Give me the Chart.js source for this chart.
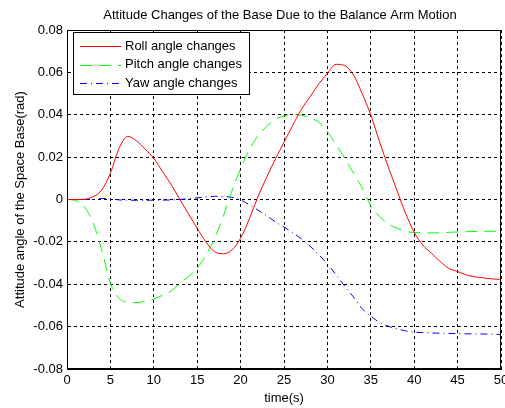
<!DOCTYPE html>
<html>
<head>
<meta charset="utf-8">
<script src="https://cdn.jsdelivr.net/npm/chart.js@4"></script>
<style>
  html, body { margin: 0; padding: 0; background: #fff; }
  #c { display: block; }
</style>
</head>
<body>
<canvas id="c" width="505" height="408"></canvas>
<script>
// temps (s), un point par seconde
const time = [0,1,2,3,4,5,6,7,8,9,10,11,12,13,14,15,16,17,18,19,20,21,22,23,24,25,26,27,28,29,30,31,32,33,34,35,36,37,38,39,40,41,42,43,44,45,46,47,48,49,50];

const roll = [0,0,0.0001,0.0013,0.0045,0.0124,0.0242,0.0298,0.0277,0.0238,0.0194,0.0132,0.007,0,-0.0068,-0.0136,-0.02,-0.0246,-0.0256,-0.0238,-0.0183,-0.0092,0.0013,0.0105,0.019,0.027,0.035,0.0425,0.0485,0.0545,0.0595,0.0638,0.0632,0.0588,0.05,0.0399,0.0273,0.0155,0.0045,-0.0065,-0.0155,-0.0215,-0.0254,-0.0293,-0.0325,-0.034,-0.0356,-0.0365,-0.037,-0.0375,-0.0377];

const pitch = [0,-0.0005,-0.0035,-0.011,-0.0238,-0.0395,-0.0466,-0.0485,-0.0487,-0.048,-0.047,-0.0452,-0.0432,-0.0395,-0.0364,-0.0325,-0.0262,-0.0185,-0.008,0.004,0.0145,0.0235,0.03,0.0345,0.0378,0.0394,0.04,0.0398,0.0385,0.0365,0.032,0.026,0.0194,0.0124,0.0055,-0.003,-0.008,-0.0115,-0.0135,-0.015,-0.0156,-0.0157,-0.0158,-0.0157,-0.0155,-0.0153,-0.0152,-0.0151,-0.015,-0.015,-0.0149];

const yaw = [0,0,0,0,0.0005,0.0003,-0.0002,-0.0003,-0.0004,-0.0004,-0.0003,-0.0003,-0.0002,0,0.0004,0.0008,0.0012,0.0015,0.0015,0.001,-0.0002,-0.0025,-0.005,-0.0076,-0.0105,-0.013,-0.0157,-0.0185,-0.022,-0.026,-0.0305,-0.0355,-0.041,-0.046,-0.0515,-0.055,-0.058,-0.0598,-0.061,-0.062,-0.0626,-0.0628,-0.063,-0.0631,-0.0632,-0.0633,-0.0634,-0.0634,-0.0635,-0.0636,-0.0637];

const seriesNames = ['Roll angle changes', 'Pitch angle changes', 'Yaw angle changes'];
const xTicks = [0,5,10,15,20,25,30,35,40,45,50];
const yTicks = [-0.08,-0.06,-0.04,-0.02,0,0.02,0.04,0.06,0.08];

const FONT = '"Liberation Sans", Arial, sans-serif';
const FS = 13;

function pts(ys) {
    return time.map((t, i) => ({ x: t, y: ys[i] }));
}

// Cadre, titre et légende façon MATLAB
const matlabPlugin = {
    id: 'matlab',
    afterDatasetsDraw(chart) {
        const ctx = chart.ctx;
        const a = chart.chartArea;
        ctx.save();
        ctx.strokeStyle = '#000';
        ctx.lineWidth = 1;
        ctx.setLineDash([]);
        ctx.strokeRect(a.left + 0.5, a.top + 0.5, a.right - a.left - 1, a.bottom - a.top - 1);

        // titre
        ctx.fillStyle = '#000';
        ctx.font = FS + 'px ' + FONT;
        ctx.textAlign = 'center';
        ctx.textBaseline = 'middle';
        ctx.fillText('Attitude Changes of the Base Due to the Balance Arm Motion', 280, 15);

        // légende
        const lx = 73, ly = 32, lw = 176, lh = 62;
        ctx.fillStyle = '#fff';
        ctx.fillRect(lx, ly, lw, lh);
        ctx.strokeRect(lx + 0.5, ly + 0.5, lw, lh);
        chart.data.datasets.forEach((ds, i) => {
            const y = ly + 14 + i * 18.5;
            ctx.strokeStyle = ds.borderColor;
            ctx.setLineDash(ds.borderDash || []);
            ctx.beginPath();
            ctx.moveTo(80, Math.round(y) + 0.5);
            ctx.lineTo(121, Math.round(y) + 0.5);
            ctx.stroke();
            ctx.setLineDash([]);
            ctx.fillStyle = '#000';
            ctx.textAlign = 'left';
            ctx.fillText(ds.label, 125, y);
        });
        ctx.restore();
    }
};

const ctx = document.getElementById('c').getContext('2d');
new Chart(ctx, {
    type: 'line',
    data: {
        datasets: [
            { label: seriesNames[0], data: pts(roll), borderColor: '#ff0000', borderWidth: 1, pointRadius: 0, cubicInterpolationMode: 'monotone' },
            { label: seriesNames[1], data: pts(pitch), borderColor: '#00ff00', borderWidth: 1, borderDash: [12, 7], pointRadius: 0, cubicInterpolationMode: 'monotone' },
            { label: seriesNames[2], data: pts(yaw), borderColor: '#0000ff', borderWidth: 1, borderDash: [7, 4, 1, 4], pointRadius: 0, cubicInterpolationMode: 'monotone' }
        ]
    },
    options: {
        responsive: false,
        animation: false,
        layout: { padding: { top: 30, right: 4, left: 0, bottom: 0 } },
        plugins: { legend: { display: false }, title: { display: false }, tooltip: { enabled: false } },
        scales: {
            x: {
                type: 'linear',
                min: 0, max: 50,
                afterFit: s => { s.height = 39; s.paddingLeft = 0; s.paddingRight = 0; },
                afterBuildTicks: s => { s.ticks = xTicks.map(v => ({ value: v })); },
                grid: { color: '#000', drawTicks: false },
                border: { display: true, color: '#000', dash: [3, 3] },
                ticks: { color: '#000', font: { family: FONT, size: FS }, padding: 4, maxRotation: 0, callback: v => String(v) },
                title: { display: true, text: 'time(s)', color: '#000', font: { family: FONT, size: FS }, padding: { top: 0, bottom: 2 } }
            },
            y: {
                min: -0.08, max: 0.08,
                afterFit: s => { s.width = 67; s.paddingTop = 0; s.paddingBottom = 0; },
                afterBuildTicks: s => { s.ticks = yTicks.map(v => ({ value: v })); },
                grid: { color: '#000', drawTicks: false },
                border: { display: true, color: '#000', dash: [3, 3] },
                ticks: { color: '#000', font: { family: FONT, size: FS }, padding: 4, callback: v => (Math.abs(v) < 1e-9 ? '0' : String(+v.toFixed(2))) },
                title: { display: true, text: 'Attitude angle of the Space Base(rad)', color: '#000', font: { family: FONT, size: FS }, padding: { top: 13, bottom: 0 } }
            }
        }
    },
    plugins: [matlabPlugin]
});
</script>
</body>
</html>
